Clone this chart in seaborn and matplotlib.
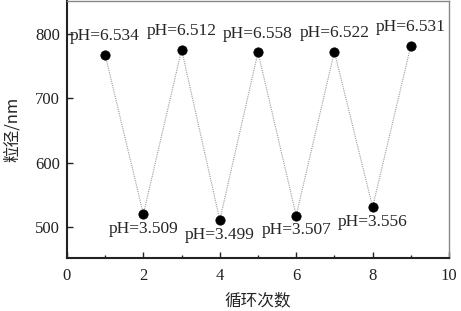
import matplotlib
matplotlib.use("Agg")
import matplotlib.pyplot as plt
import seaborn as sns
import pandas as pd

cycles = [1, 2, 3, 4, 5, 6, 7, 8, 9]
sizes = [767, 520, 775, 511, 771, 518, 772, 531, 781]
ph_labels = ["pH=6.534", "pH=3.509", "pH=6.512", "pH=3.499", "pH=6.558",
             "pH=3.507", "pH=6.522", "pH=3.556", "pH=6.531"]

sns.set_theme(style="ticks")
plt.rcParams['font.family'] = ['Liberation Serif', 'Noto Sans CJK SC']
plt.rcParams['xtick.direction'] = 'in'
plt.rcParams['ytick.direction'] = 'in'

df = pd.DataFrame({"cycle": cycles, "size": sizes})

fig = plt.figure(figsize=(4.61, 3.11), dpi=100)
ax = fig.add_axes([0.1453, 0.170, 0.8287, 0.828])

sns.lineplot(data=df, x="cycle", y="size", ax=ax, color="#9a9a9a",
             linestyle=(0, (1, 1)), linewidth=0.8)
sns.scatterplot(data=df, x="cycle", y="size", ax=ax, color="black",
                s=45, edgecolor="black", zorder=3)

for x, y, lab in zip(cycles, sizes, ph_labels):
    if y > 650:
        ax.annotate(lab, (x, y), xytext=(0, 7.5), textcoords="offset points",
                    ha="center", va="bottom", fontsize=12.5)
    else:
        ax.annotate(lab, (x, y), xytext=(0, -5), textcoords="offset points",
                    ha="center", va="top", fontsize=12.5)

ax.set_xlim(0, 10)
ax.set_ylim(452, 851)
ax.set_xticks([0, 2, 4, 6, 8, 10])
ax.set_xticks([1, 3, 5, 7, 9], minor=True)
ax.set_yticks([500, 600, 700, 800])
ax.tick_params(axis="both", labelsize=12, length=4, width=1, colors="#222222")
ax.tick_params(axis="x", which="minor", length=2.5, width=1)
ax.tick_params(axis="x", pad=7)
ax.tick_params(axis="y", pad=5)
ax.set_xlabel("循环次数", fontsize=12, family=['Noto Sans CJK SC'], labelpad=6)
ax.set_ylabel("粒径/nm", fontsize=12, family=['Noto Sans CJK SC', 'Liberation Serif'], labelpad=10)

for side in ["left", "bottom"]:
    ax.spines[side].set_linewidth(1.5)
    ax.spines[side].set_color("#222222")
for side in ["right", "top"]:
    ax.spines[side].set_visible(True)
    ax.spines[side].set_linewidth(1.0)
    ax.spines[side].set_color("#888888")

fig.savefig("out.png", dpi=100)
